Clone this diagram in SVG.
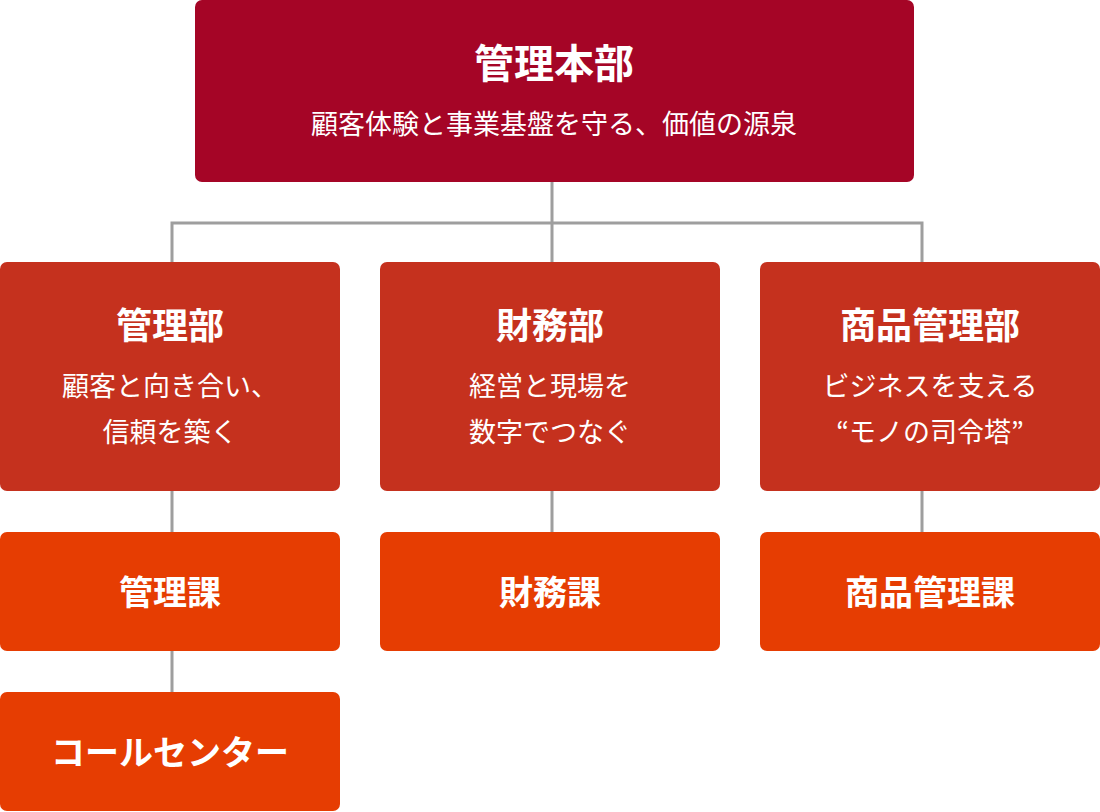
<svg xmlns="http://www.w3.org/2000/svg" width="1100" height="812" viewBox="0 0 1100 812">
<style>
text{font-family:"Noto Sans CJK JP","Noto Sans",sans-serif;fill:#fff;text-anchor:middle}
.t{font-weight:bold}
.c{stroke:#9e9e9e;stroke-width:3;fill:none}
</style>
<g id="connectors">
<path class="c" d="M552,182V223M172,262V223H922V262M552,223V262M172,491V532M552,491V532M922,491V532M172,651V692"/>
</g>
<g id="hq"><rect x="195" y="0" width="719" height="182" rx="7" fill="#A50526"/>
<text class="t" x="554" y="78" font-size="40">管理本部</text>
<text x="554" y="134" font-size="27">顧客体験と事業基盤を守る、価値の源泉</text></g>
<g id="kanribu"><rect x="0" y="262" width="340" height="229" rx="7" fill="#C5311E"/>
<text class="t" x="170" y="339" font-size="36">管理部</text>
<text x="170" y="396" font-size="27">顧客と向き合い、</text>
<text x="170" y="442" font-size="27">信頼を築く</text></g>
<g id="zaimubu"><rect x="380" y="262" width="340" height="229" rx="7" fill="#C5311E"/>
<text class="t" x="550" y="339" font-size="36">財務部</text>
<text x="550" y="396" font-size="27">経営と現場を</text>
<text x="550" y="442" font-size="27">数字でつなぐ</text></g>
<g id="shohinbu"><rect x="760" y="262" width="340" height="229" rx="7" fill="#C5311E"/>
<text class="t" x="930" y="339" font-size="36">商品管理部</text>
<text x="930" y="396" font-size="27">ビジネスを支える</text>
<text x="930" y="442" font-size="27">“モノの司令塔”</text></g>
<g id="kanrika"><rect x="0" y="532" width="340" height="119" rx="7" fill="#E63D02"/>
<text class="t" x="170" y="605" font-size="34">管理課</text></g>
<g id="zaimuka"><rect x="380" y="532" width="340" height="119" rx="7" fill="#E63D02"/>
<text class="t" x="550" y="605" font-size="34">財務課</text></g>
<g id="shohinka"><rect x="760" y="532" width="340" height="119" rx="7" fill="#E63D02"/>
<text class="t" x="930" y="605" font-size="34">商品管理課</text></g>
<g id="callcenter"><rect x="0" y="692" width="340" height="119" rx="7" fill="#E63D02"/>
<text class="t" x="170" y="765" font-size="34">コールセンター</text></g>
</svg>
